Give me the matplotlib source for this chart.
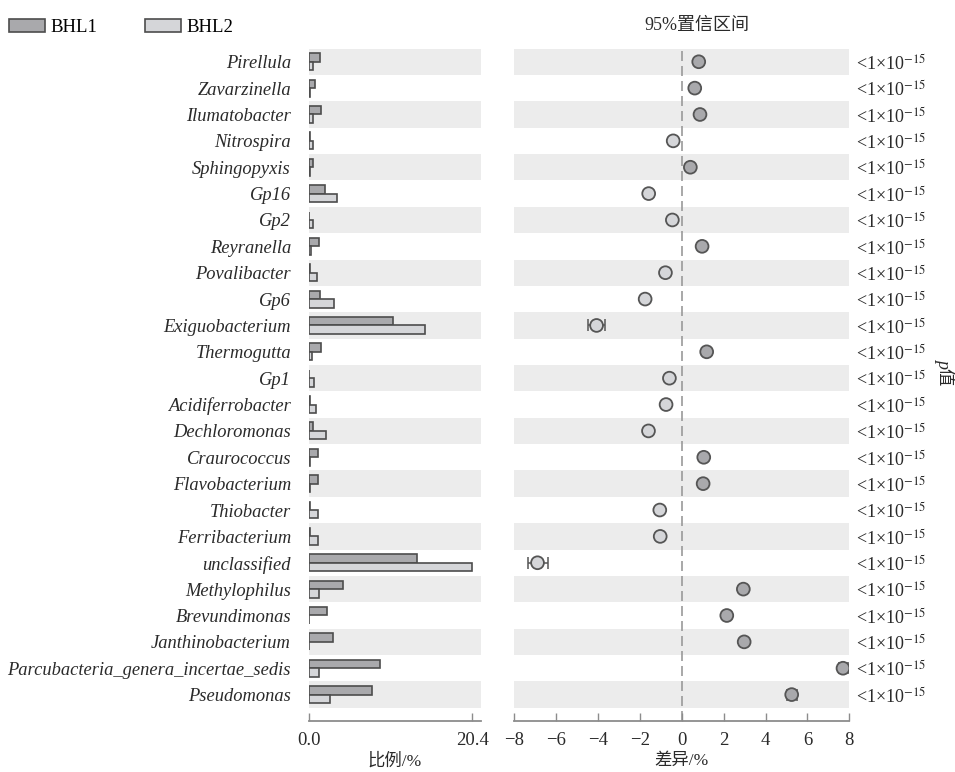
import matplotlib
matplotlib.use("Agg")
import matplotlib.pyplot as plt
from matplotlib.patches import Patch
import numpy as np

plt.rcParams['font.family'] = ['Liberation Serif', 'Noto Sans CJK SC']
plt.rcParams['mathtext.fontset'] = 'stix'

genera = ["Pirellula", "Zavarzinella", "Ilumatobacter", "Nitrospira", "Sphingopyxis",
          "Gp16", "Gp2", "Reyranella", "Povalibacter", "Gp6", "Exiguobacterium",
          "Thermogutta", "Gp1", "Acidiferrobacter", "Dechloromonas", "Craurococcus",
          "Flavobacterium", "Thiobacter", "Ferribacterium", "unclassified",
          "Methylophilus", "Brevundimonas", "Janthinobacterium",
          "Parcubacteria_genera_incertae_sedis", "Pseudomonas"]

# relative abundance (%)
bhl1 = [1.40, 0.80, 1.45, 0.10, 0.50, 2.00, 0.05, 1.20, 0.15, 1.35, 10.45,
        1.55, 0.05, 0.10, 0.55, 1.15, 1.10, 0.10, 0.10, 13.55,
        4.25, 2.20, 3.00, 8.90, 7.90]
bhl2 = [0.55, 0.15, 0.55, 0.50, 0.10, 3.55, 0.50, 0.20, 0.95, 3.10, 14.50,
        0.35, 0.65, 0.85, 2.15, 0.10, 0.08, 1.15, 1.13, 20.40,
        1.30, 0.05, 0.03, 1.20, 2.65]

# difference in mean proportions with 95% confidence interval
diff = [0.81, 0.62, 0.87, -0.41, 0.41, -1.58, -0.45, 0.97, -0.78, -1.75, -4.07,
        1.19, -0.59, -0.75, -1.59, 1.05, 1.02, -1.05, -1.03, -6.89,
        2.94, 2.15, 2.98, 7.70, 5.25]
ci_low = [0.74, 0.57, 0.80, -0.46, 0.37, -1.68, -0.50, 0.90, -0.84, -1.85, -4.47,
          1.12, -0.64, -0.80, -1.68, 0.99, 0.96, -1.12, -1.10, -7.34,
          2.84, 2.08, 2.88, 7.50, 5.03]
ci_high = [0.88, 0.67, 0.94, -0.36, 0.45, -1.48, -0.40, 1.04, -0.72, -1.65, -3.66,
           1.26, -0.54, -0.70, -1.50, 1.11, 1.08, -0.98, -0.96, -6.41,
           3.04, 2.22, 3.08, 7.95, 5.50]
pvals = ["<1×10$^{-15}$"] * len(genera)

c_bhl1 = "#a9a9ac"
c_bhl2 = "#d5d6d9"
c_edge = "#4d4d4d"
c_band = "#ececec"
c_axis = "#8c8c8c"
c_text = "#2a2a2a"
fs = 13.3
cjk = ["Liberation Serif", "Noto Sans CJK SC"]

fig = plt.figure(figsize=(9.55, 7.72), dpi=100)
bottom, height = 0.0661, 0.8744
ax1 = fig.add_axes([0.3236, bottom, 0.1801, height])
ax2 = fig.add_axes([0.5385, bottom, 0.3508, height])

y = np.arange(len(genera))
for ax in (ax1, ax2):
    for i in y[::2]:
        ax.axhspan(i - 0.5, i + 0.5, color=c_band, lw=0, zorder=0)
    ax.set_ylim(25.0, -0.6)
    for s in ("left", "right", "top"):
        ax.spines[s].set_visible(False)
    ax.spines["bottom"].set_color(c_axis)
    ax.spines["bottom"].set_linewidth(1.3)
    ax.tick_params(axis="x", direction="in", length=6, width=1.0, color=c_axis,
                   labelsize=13.5, pad=8, labelcolor=c_text)
    ax.tick_params(axis="y", length=0)

# proportions panel
bh = 0.32
ax1.barh(y - bh / 2, bhl1, height=bh, color=c_bhl1, edgecolor=c_edge, lw=1.2, zorder=2)
ax1.barh(y + bh / 2, bhl2, height=bh, color=c_bhl2, edgecolor=c_edge, lw=1.2, zorder=2)
ax1.set_xlim(0, 21.52)
ax1.set_xticks([0, 20.4])
ax1.set_xticklabels(["0.0", "20.4"])
ax1.set_yticks(y)
ax1.set_yticklabels(genera, fontstyle="italic", fontsize=fs, color=c_text)
ax1.tick_params(axis="y", pad=13)
ax1.set_xlabel("比例/%", fontsize=12.5, family=cjk, labelpad=3, color=c_text)

# difference panel
ax2.axvline(0, color="#9a9a9a", lw=1.2, dashes=(6, 3), zorder=1)
d = np.array(diff)
err = np.vstack([d - np.array(ci_low), np.array(ci_high) - d])
colors = [c_bhl1 if v > 0 else c_bhl2 for v in diff]
ax2.errorbar(d, y, xerr=err, fmt="none", ecolor="#555555", elinewidth=1.1,
             capsize=4, capthick=1.1, zorder=2)
ax2.scatter(d, y, s=85, c=colors, edgecolors="#555555", linewidths=1.3, zorder=3)
ax2.set_xlim(-8, 8)
ax2.set_xticks(np.arange(-8, 9, 2))
ax2.set_xticklabels([f"{v}".replace("-", "−") for v in range(-8, 9, 2)])
ax2.yaxis.tick_right()
ax2.set_yticks(y)
ax2.set_yticklabels(pvals, fontsize=13, color=c_text)
ax2.tick_params(axis="y", pad=5)
ax2.set_xlabel("差异/%", fontsize=12.5, family=cjk, labelpad=3, color=c_text)

fig.text(697 / 955, 1 - 25 / 772, "95%置信区间", fontsize=13, family=cjk,
         ha="center", va="center", color=c_text)

# right-hand axis title: italic p followed by 值, read top to bottom
fig.text(944 / 955, 1 - 362 / 772, "p", rotation=270, fontsize=13, fontstyle="italic",
         family=["Liberation Serif"], ha="center", va="center", color=c_text)
fig.text(944 / 955, 1 - 377 / 772, "值", rotation=270, fontsize=12.5,
         family=["Noto Sans CJK SC"], ha="center", va="center", color=c_text)

handles = [Patch(facecolor=c_bhl1, edgecolor=c_edge, lw=1.2, label="BHL1"),
           Patch(facecolor=c_bhl2, edgecolor=c_edge, lw=1.2, label="BHL2")]
fig.legend(handles=handles, loc="upper left", bbox_to_anchor=(0.0094, 0.976), ncol=2,
           frameon=False, fontsize=13.5, handlelength=1.92, handleheight=0.69,
           handletextpad=0.27, columnspacing=2.56, borderaxespad=0, borderpad=0)

fig.savefig("out.png", dpi=100)
